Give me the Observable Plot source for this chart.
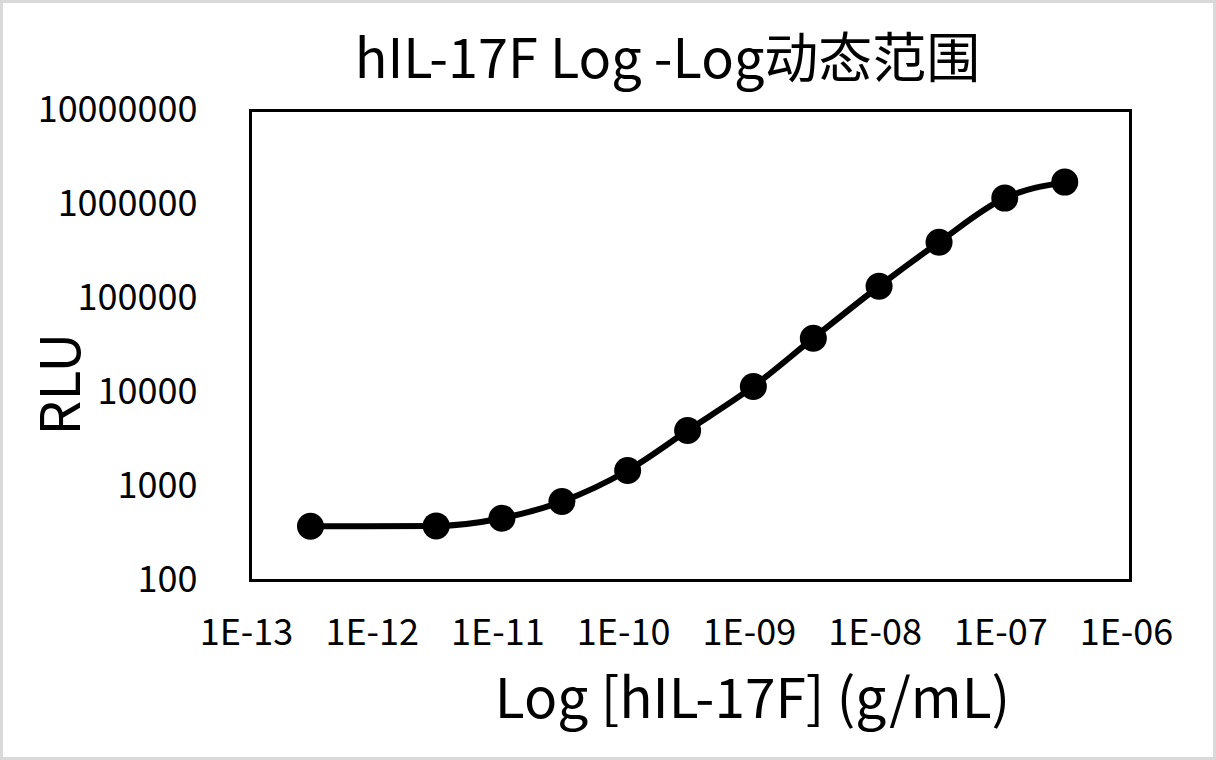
<!DOCTYPE html>
<html><head><meta charset="utf-8">
<script src="https://cdn.jsdelivr.net/npm/d3@7"></script>
<script src="https://cdn.jsdelivr.net/npm/@observablehq/plot@0.6"></script>
<style>
body{margin:0;background:#fff}
#chart svg{display:block; outline:3px solid #d9d9d9; outline-offset:-3px}
</style></head><body><div id="chart"></div>
<script>
const concentration = [3e-13, 3e-12, 1e-11, 3e-11, 1e-10, 3e-10, 1e-9, 3e-9, 1e-8, 3e-8, 1e-7, 3e-7];
const rlu = [378, 381, 460, 692, 1480, 3940, 11600, 37800, 135000, 397000, 1170000, 1730000];
const xTicks = [1e-13, 1e-12, 1e-11, 1e-10, 1e-9, 1e-8, 1e-7, 1e-6];
const xTickLabels = ["1E-13", "1E-12", "1E-11", "1E-10", "1E-09", "1E-08", "1E-07", "1E-06"];
const yTicks = [100, 1000, 10000, 100000, 1000000, 10000000];
const yTickLabels = ["100", "1000", "10000", "100000", "1000000", "10000000"];
const title = "hIL-17F Log -Log动态范围";
const xLabel = "Log [hIL-17F] (g/mL)";
const yLabel = "RLU";

const data = concentration.map((c, i) => ({c, v: rlu[i]}));
const font = '"Noto Sans CJK SC", "Noto Sans", sans-serif';

const plot = Plot.plot({
  width: 1216, height: 760,
  marginLeft: 250, marginRight: 86, marginTop: 110, marginBottom: 180,
  style: {fontFamily: font, color: "#000", background: "#fff"},
  x: {type: "log", domain: [1e-13, 1e-6]},
  y: {type: "log", domain: [100, 1e7]},
  marks: [
    Plot.axisX({ticks: xTicks, tickFormat: (d) => xTickLabels[xTicks.indexOf(d)], tickSize: 0, tickPadding: 39, fontSize: 36, label: null, dx: -4}),
    Plot.axisY({ticks: yTicks, tickFormat: (d) => yTickLabels[yTicks.indexOf(d)], tickSize: 0, tickPadding: 53, fontSize: 36, label: null}),
    Plot.line(data, {x: "c", y: "v", curve: "monotone-x", stroke: "#000", strokeWidth: 6}),
    Plot.dot(data, {x: "c", y: "v", r: 13.5, fill: "#000", stroke: null}),
    Plot.frame({stroke: "#000", strokeWidth: 3}),
    Plot.text([title], {frameAnchor: "top", dx: -23, dy: -71, fontSize: 54, fill: "#000"}),
    Plot.text([xLabel], {frameAnchor: "bottom", dx: 62, dy: 137, fontSize: 55, fill: "#000"}),
    Plot.text([yLabel], {frameAnchor: "left", rotate: -90, dx: -188, dy: 90, fontSize: 55, fill: "#000"})
  ]
});
document.getElementById("chart").append(plot);
</script></body></html>
